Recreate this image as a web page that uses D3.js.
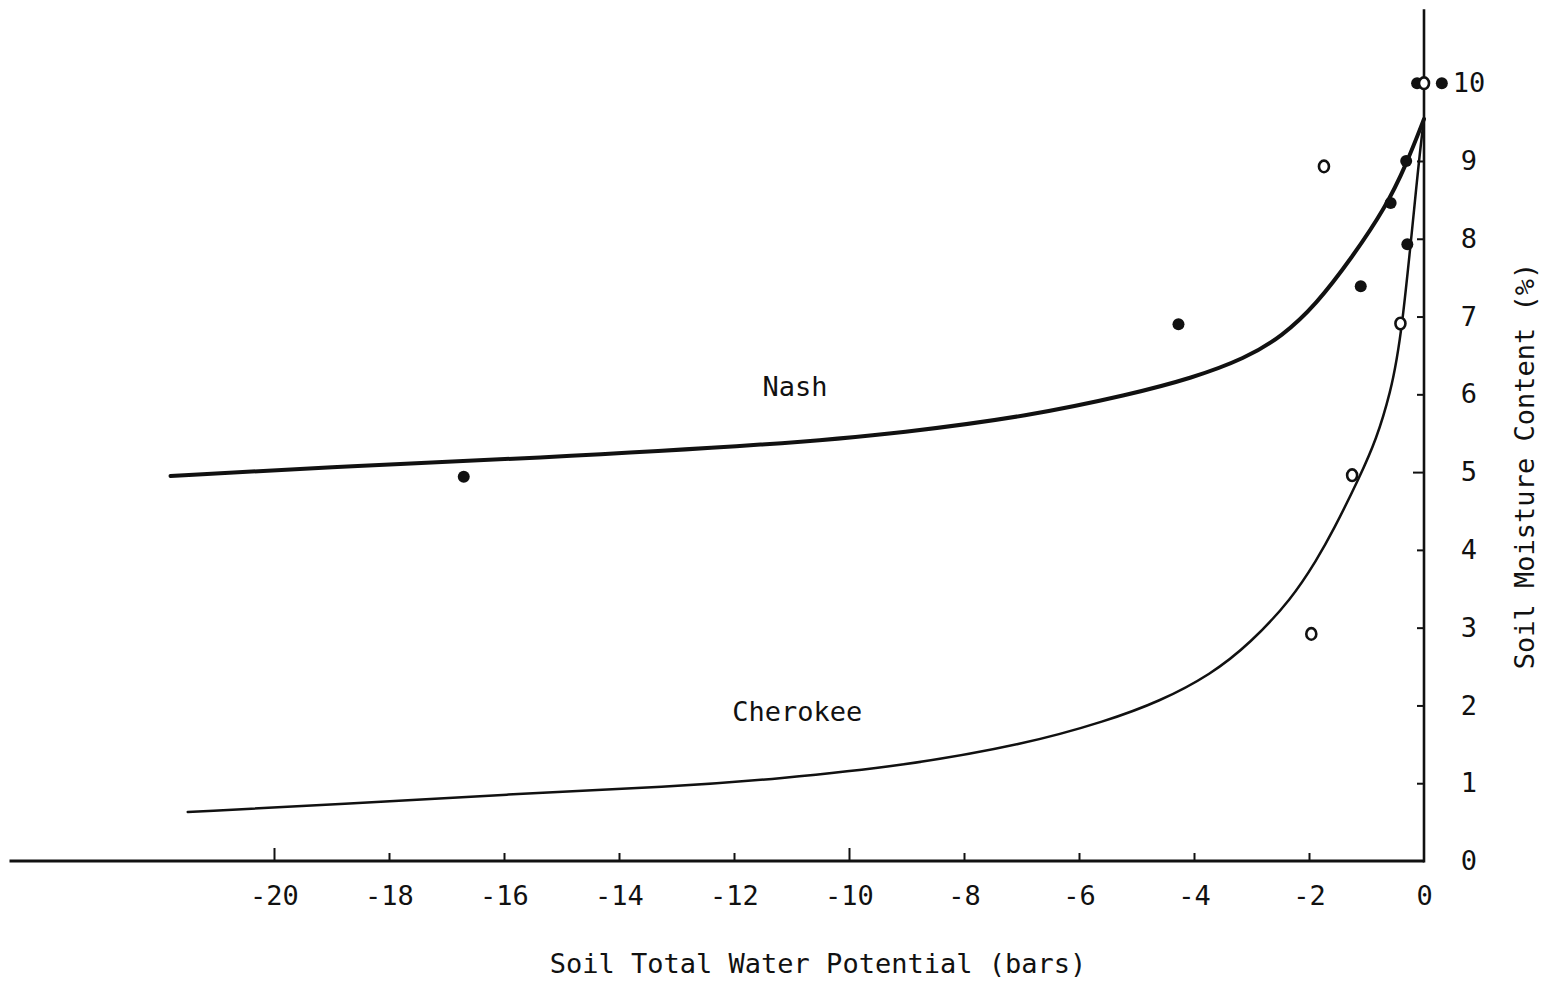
<!DOCTYPE html>
<html>
<head>
<meta charset="utf-8">
<script src="https://cdn.jsdelivr.net/npm/d3@7"></script>
<style>
  html, body { margin: 0; padding: 0; background: #fff; }
  svg { display: block; }
  text { font-family: "DejaVu Sans Mono", "Liberation Mono", monospace; fill: #111; }
</style>
</head>
<body>
<svg id="chart" width="1541" height="983"></svg>
<script>
// Soil moisture retention: water potential (bars) vs moisture content (%)
const xTickValues = [-20, -18, -16, -14, -12, -10, -8, -6, -4, -2, 0];
const yTickValues = [0, 1, 2, 3, 4, 5, 6, 7, 8, 9, 10];

// Fitted curve, Nash soil
const nashCurvePotential = [-21.8, -18.45, -15.66, -11.14, -9.02, -6.88, -5.10, -4.03, -3.11, -2.46, -1.88, -1.25, -0.67, -0.31, 0];
const nashCurveMoisture  = [4.95, 5.09, 5.17, 5.36, 5.51, 5.72, 6.00, 6.21, 6.46, 6.75, 7.15, 7.76, 8.40, 8.95, 9.54];

// Fitted curve, Cherokee soil
const cherokeeCurvePotential = [-21.5, -18.79, -15.95, -13.10, -11.20, -9.08, -6.94, -5.52, -4.60, -3.70, -3.02, -2.30, -1.86, -1.59, -1.11, -0.83, -0.59, -0.39, -0.09, 0];
const cherokeeCurveMoisture  = [0.63, 0.73, 0.86, 0.95, 1.06, 1.22, 1.50, 1.80, 2.05, 2.40, 2.80, 3.37, 3.88, 4.23, 4.95, 5.42, 6.00, 6.71, 9.02, 9.54];

// Measured points, Nash (filled)
const nashObsPotential = [-16.70, -4.27, -1.10, -0.58, -0.31, -0.29, 0.31, -0.12];
const nashObsMoisture  = [4.94, 6.90, 7.39, 8.46, 9.00, 7.93, 10.0, 10.0];

// Measured points, Cherokee (open)
const cherokeeObsPotential = [-1.74, -0.41, -1.25, -1.96, 0];
const cherokeeObsMoisture  = [8.93, 6.91, 4.96, 2.92, 10.0];

// Curve labels
const curveLabels = ["Nash", "Cherokee"];
const curveLabelPotential = [-10.94, -10.90];
const curveLabelMoisture = [6.10, 1.92];

const xTitle = "Soil Total Water Potential (bars)";
const yTitle = "Soil Moisture Content (%)";

// Axis line extents (beyond the tick range)
const xLineFrom = -24.6;
const yLineTo = 10.95;

const svg = d3.select("#chart");
const ink = "#111";

const x = d3.scaleLinear().domain([-20, 0]).range([274, 1424]);
const y = d3.scaleLinear().domain([0, 10]).range([861, 83.2]);

// Axis lines
svg.append("line")
  .attr("x1", x(xLineFrom)).attr("x2", x(0))
  .attr("y1", y(0)).attr("y2", y(0))
  .attr("stroke", ink).attr("stroke-width", 3.2);
svg.append("line")
  .attr("x1", x(0)).attr("x2", x(0))
  .attr("y1", y(0) + 1.5).attr("y2", y(yLineTo))
  .attr("stroke", ink).attr("stroke-width", 2.6);

// X axis: ticks point up, labels below
const xAxis = d3.axisBottom(x)
  .tickValues(xTickValues)
  .tickSize(-8)
  .tickPadding(25)
  .tickFormat(d3.format("d"));
const gx = svg.append("g")
  .attr("transform", `translate(0,${y(0)})`)
  .call(xAxis);
gx.select(".domain").remove();
gx.selectAll(".tick line")
  .attr("stroke", ink).attr("stroke-width", 2)
  .attr("y2", d => (d === -20 || d === -10) ? -13 : -8)
  .attr("opacity", d => d === 0 ? 0 : 1);
gx.selectAll(".tick text")
  .attr("font-size", 27)
  .attr("fill", ink)
  .text(d => d < 0 ? "-" + Math.abs(d) : String(d));

// Y axis: ticks point left, labels to the right
const yAxis = d3.axisRight(y)
  .tickValues(yTickValues)
  .tickSize(-7)
  .tickPadding(45)
  .tickFormat(d3.format("d"));
const gy = svg.append("g")
  .attr("transform", `translate(${x(0)},0)`)
  .call(yAxis);
gy.select(".domain").remove();
gy.selectAll(".tick line")
  .attr("stroke", ink).attr("stroke-width", 2)
  .attr("x2", d => d === 5 ? -11 : -7)
  .attr("opacity", d => (d === 0 || d === 10) ? 0 : 1);
gy.selectAll(".tick text")
  .attr("font-size", 27)
  .attr("fill", ink)
  .attr("text-anchor", "middle");

// Curves (smooth B-spline through the traced points)
const line = d3.line()
  .x(d => x(d[0]))
  .y(d => y(d[1]))
  .curve(d3.curveBasis);

const nashCurve = d3.zip(nashCurvePotential, nashCurveMoisture);
const cherokeeCurve = d3.zip(cherokeeCurvePotential, cherokeeCurveMoisture);

svg.append("path")
  .datum(cherokeeCurve)
  .attr("d", line)
  .attr("fill", "none")
  .attr("stroke", ink)
  .attr("stroke-width", 2.5)
  .attr("stroke-linecap", "round");

svg.append("path")
  .datum(nashCurve)
  .attr("d", line)
  .attr("fill", "none")
  .attr("stroke", ink)
  .attr("stroke-width", 4)
  .attr("stroke-linecap", "round");

// Observations
svg.append("g").selectAll("circle")
  .data(d3.zip(nashObsPotential, nashObsMoisture))
  .join("circle")
  .attr("cx", d => x(d[0]))
  .attr("cy", d => y(d[1]))
  .attr("r", 6)
  .attr("fill", ink);

svg.append("g").selectAll("ellipse")
  .data(d3.zip(cherokeeObsPotential, cherokeeObsMoisture))
  .join("ellipse")
  .attr("cx", d => x(d[0]))
  .attr("cy", d => y(d[1]))
  .attr("rx", 5)
  .attr("ry", 5.8)
  .attr("fill", "#fff")
  .attr("stroke", ink)
  .attr("stroke-width", 2.6);

// Curve labels
svg.append("g").selectAll("text")
  .data(curveLabels)
  .join("text")
  .attr("x", (d, i) => x(curveLabelPotential[i]))
  .attr("y", (d, i) => y(curveLabelMoisture[i]))
  .attr("dy", "0.36em")
  .attr("text-anchor", "middle")
  .attr("font-size", 27)
  .text(d => d);

// Axis titles
svg.append("text")
  .attr("x", 818)
  .attr("y", 963)
  .attr("dy", "0.36em")
  .attr("text-anchor", "middle")
  .attr("font-size", 27)
  .text(xTitle);

svg.append("text")
  .attr("transform", "translate(1524,466) rotate(-90)")
  .attr("dy", "0.36em")
  .attr("text-anchor", "middle")
  .attr("font-size", 27)
  .text(yTitle);
</script>
</body>
</html>
